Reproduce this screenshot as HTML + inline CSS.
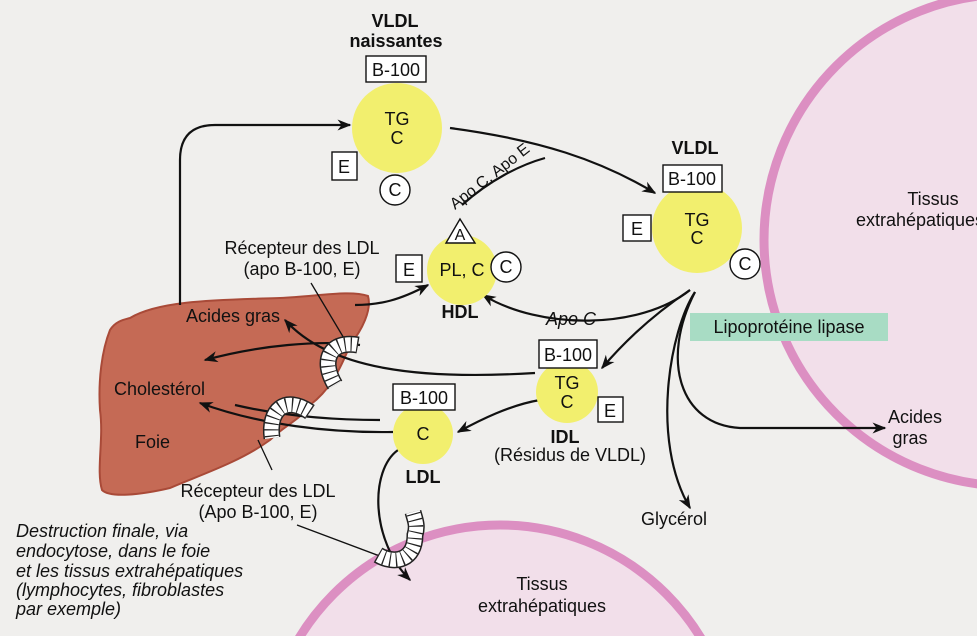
<!DOCTYPE html>
<html><head><meta charset="utf-8"><style>
html,body{margin:0;background:#f0efed;width:977px;height:636px;overflow:hidden;}
svg{display:block;font-family:"Liberation Sans",sans-serif;}
</style></head><body>
<svg width="977" height="636" viewBox="0 0 977 636" xmlns="http://www.w3.org/2000/svg">
<defs>
<marker id="ar2" viewBox="0 0 10 10" refX="9" refY="5" markerWidth="14" markerHeight="14" orient="auto" markerUnits="userSpaceOnUse">
<path d="M0,1 L10,5 L0,9 L3,5 z" fill="#111"/></marker>
</defs>
<rect width="977" height="636" fill="#f0efed"/>
<circle cx="1010" cy="240" r="246" fill="#f2dfea" stroke="#dc8fc2" stroke-width="9"/>
<circle cx="500" cy="760" r="235" fill="#f2dfea" stroke="#dc8fc2" stroke-width="9"/>
<path d="M130,318 C160,300 220,300 280,298 C320,296 350,290 368,296 C372,310 362,330 350,345 C340,370 330,390 310,405 C300,420 285,425 270,440 C240,462 200,475 170,488 C140,495 110,498 102,490 C96,470 104,440 100,410 C98,380 102,350 110,330 C115,322 122,320 130,318 Z" fill="#c56a55" stroke="#a94a38" stroke-width="2"/>
<rect x="690" y="313" width="198" height="28" fill="#a8dcc4"/>
<text x="789" y="333" font-size="18" text-anchor="middle" fill="#111">Lipoprotéine lipase</text>

<g fill="none" stroke="#111" stroke-width="2.2">
<path d="M180,305 L180,160 Q180,125 215,125 L350,125" marker-end="url(#ar2)"/>
<path d="M450,128 C540,140 600,160 655,193" marker-end="url(#ar2)"/>
<path d="M462,205 C490,180 520,165 545,158"/>
<path d="M690,290 C640,330 540,330 483,295" marker-end="url(#ar2)"/>
<path d="M690,290 C660,310 630,335 602,368" marker-end="url(#ar2)"/>
<path d="M695,292 C670,330 650,440 690,508" marker-end="url(#ar2)"/>
<path d="M695,292 C660,360 680,425 740,428 L885,428" marker-end="url(#ar2)"/>
<path d="M355,305 C380,305 400,300 428,285" marker-end="url(#ar2)"/>
<path d="M535,373 C420,380 330,370 285,320" marker-end="url(#ar2)"/>
<path d="M380,420 Q300,420 235,405" />
<path d="M360,345 C320,340 260,345 205,360" marker-end="url(#ar2)"/>
<path d="M540,400 C510,405 480,420 458,432" marker-end="url(#ar2)"/>
<path d="M393,432 C330,433 260,425 200,403" marker-end="url(#ar2)"/>
<path d="M398,450 C370,470 370,540 410,580" marker-end="url(#ar2)"/>
</g>
<g fill="none" stroke="#111" stroke-width="1.3">
<path d="M311,283 L345,340"/>
<path d="M258,440 L272,470"/>
<path d="M297,525 L385,558"/>
</g>
<g fill="none">
<path d="M358,345 C330,340 320,360 335,385" stroke="#222" stroke-width="17"/>
<path d="M358,345 C330,340 320,360 335,385" stroke="#fff" stroke-width="14"/>
<path d="M358,345 C330,340 320,360 335,385" stroke="#222" stroke-width="14" stroke-dasharray="1.2 5"/>
<path d="M310,412 C285,395 268,410 272,438" stroke="#222" stroke-width="17"/>
<path d="M310,412 C285,395 268,410 272,438" stroke="#fff" stroke-width="14"/>
<path d="M310,412 C285,395 268,410 272,438" stroke="#222" stroke-width="14" stroke-dasharray="1.2 5"/>
<path d="M378,555 C395,565 415,560 415,535 C418,525 415,520 413,512" stroke="#222" stroke-width="17"/>
<path d="M378,555 C395,565 415,560 415,535 C418,525 415,520 413,512" stroke="#fff" stroke-width="14"/>
<path d="M378,555 C395,565 415,560 415,535 C418,525 415,520 413,512" stroke="#222" stroke-width="14" stroke-dasharray="1.2 5"/>
</g>

<g fill="#f2ef6e">
<circle cx="397" cy="128" r="45"/>
<circle cx="697" cy="228" r="45"/>
<circle cx="462" cy="270" r="35"/>
<circle cx="567" cy="392" r="31"/>
<circle cx="423" cy="434" r="30"/>
</g>
<g fill="#fff" stroke="#111" stroke-width="1.4">
<rect x="366" y="56" width="60" height="26"/>
<rect x="663" y="165" width="59" height="27"/>
<rect x="539" y="340" width="58" height="28"/>
<rect x="393" y="384" width="62" height="26"/>
<rect x="332" y="152" width="25" height="28"/>
<rect x="623" y="215" width="28" height="26"/>
<rect x="396" y="255" width="26" height="27"/>
<rect x="598" y="397" width="25" height="25"/>
<circle cx="395" cy="190" r="15"/>
<circle cx="745" cy="264" r="15"/>
<circle cx="506" cy="267" r="15"/>
<path d="M460,219 L475,243 L446,243 Z"/>
</g>
<g font-size="18" fill="#111" text-anchor="middle">
<text x="396" y="76">B-100</text>
<text x="692" y="185">B-100</text>
<text x="568" y="361">B-100</text>
<text x="424" y="404">B-100</text>
<text x="344" y="173">E</text>
<text x="637" y="235">E</text>
<text x="409" y="276">E</text>
<text x="610" y="417">E</text>
<text x="395" y="196">C</text>
<text x="745" y="270">C</text>
<text x="506" y="273">C</text>
<text x="460" y="240" font-size="16">A</text>
<text x="397" y="125">TG</text>
<text x="397" y="144">C</text>
<text x="697" y="226">TG</text>
<text x="697" y="244">C</text>
<text x="462" y="276">PL, C</text>
<text x="567" y="389">TG</text>
<text x="567" y="408">C</text>
<text x="423" y="440">C</text>
<g font-weight="bold">
<text x="395" y="27">VLDL</text>
<text x="396" y="47">naissantes</text>
<text x="695" y="154">VLDL</text>
<text x="460" y="318">HDL</text>
<text x="565" y="443">IDL</text>
<text x="423" y="483">LDL</text>
</g>
<text x="570" y="461">(Résidus de VLDL)</text>
<text x="933" y="205">Tissus</text>
<text x="920" y="226">extrahépatiques</text>
<text x="915" y="423">Acides</text>
<text x="910" y="444">gras</text>
<text x="674" y="525">Glycérol</text>
<text x="542" y="590">Tissus</text>
<text x="542" y="612">extrahépatiques</text>
<text x="302" y="254">Récepteur des LDL</text>
<text x="302" y="275">(apo B-100, E)</text>
<text x="258" y="497">Récepteur des LDL</text>
<text x="258" y="518">(Apo B-100, E)</text>
</g>
<g font-size="18" fill="#111">
<text x="186" y="322">Acides gras</text>
<text x="114" y="395">Cholestérol</text>
<text x="135" y="448">Foie</text>
<text x="546" y="325" font-style="italic">Apo C</text>
<text transform="translate(455,210) rotate(-38)" font-size="16">Apo C, Apo E</text>
</g>
<g font-size="18" fill="#111" font-style="italic">
<text x="16" y="537">Destruction finale, via</text>
<text x="16" y="557">endocytose, dans le foie</text>
<text x="16" y="577">et les tissus extrahépatiques</text>
<text x="16" y="596">(lymphocytes, fibroblastes</text>
<text x="16" y="615">par exemple)</text>
</g>
</svg>
</body></html>
